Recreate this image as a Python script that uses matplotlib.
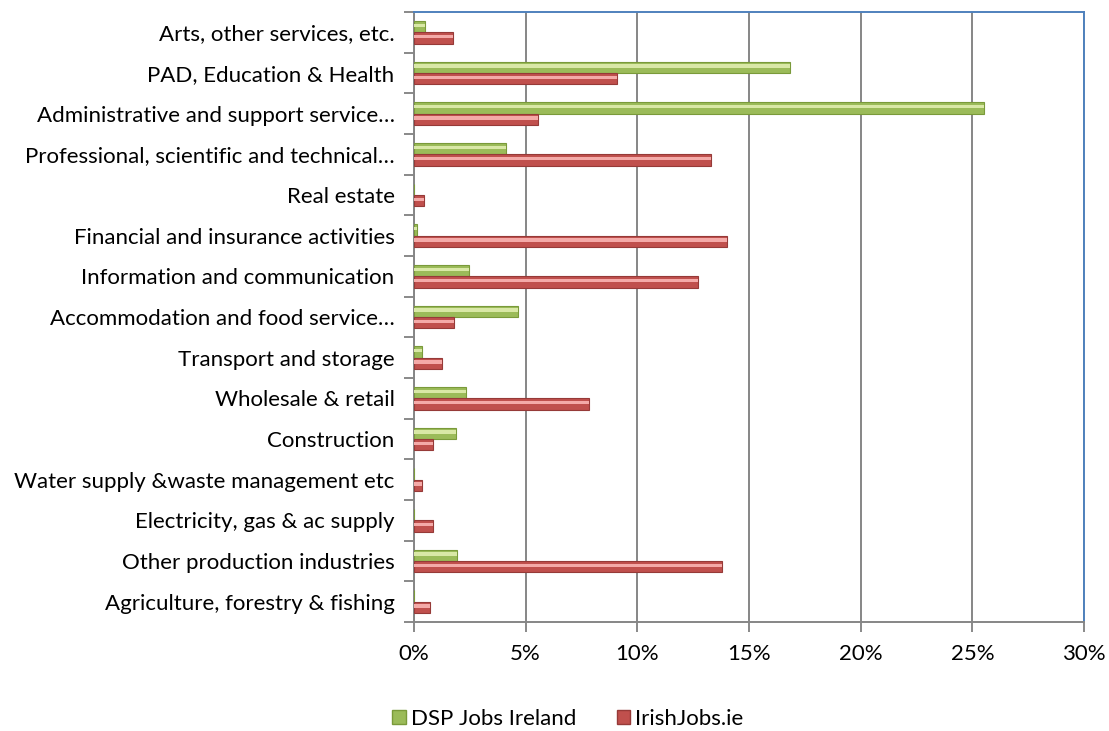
import matplotlib
matplotlib.use("Agg")
import matplotlib.pyplot as plt
import numpy as np
from matplotlib.patches import Patch
from matplotlib.ticker import FuncFormatter, MultipleLocator

categories = [
    "Agriculture, forestry & fishing",
    "Other production industries",
    "Electricity, gas & ac supply",
    "Water supply &waste management etc",
    "Construction",
    "Wholesale & retail",
    "Transport and storage",
    "Accommodation and food service\u2026",
    "Information and communication",
    "Financial and insurance activities",
    "Real estate",
    "Professional, scientific and technical\u2026",
    "Administrative and support service\u2026",
    "PAD, Education & Health",
    "Arts, other services, etc.",
]
dsp_jobs = [0.02, 1.94, 0.0, 0.02, 1.88, 2.34, 0.37, 4.66, 2.45, 0.13, 0.02, 4.12, 25.5, 16.85, 0.49]
irish_jobs = [0.73, 13.77, 0.85, 0.36, 0.85, 7.84, 1.25, 1.78, 12.7, 14.0, 0.45, 13.3, 5.55, 9.08, 1.76]

plt.rcParams['font.family'] = ['Lato', 'DejaVu Sans']

fig = plt.figure(figsize=(11.09, 7.31), dpi=100)
ax = fig.add_axes([414/1109, 1-622/731, (1084-414)/1109, (622-12)/731])

y = np.arange(len(categories))
h = 0.28
green = dict(edge="#7a9a3a", body="#9BBB59", hi="#d9e8a6")
red = dict(edge="#963a38", body="#C0504D", hi="#f4aaa8")

def draw(vals, offset, c):
    ax.barh(y + offset, vals, height=h, color=c["body"], edgecolor=c["edge"], linewidth=0.8, zorder=3)
    ax.barh(y + offset + h*0.12, vals, height=h*0.28, color=c["hi"], linewidth=0, zorder=4)

draw(dsp_jobs, h/2, green)
draw(irish_jobs, -h/2, red)

ax.set_xlim(0, 30)
ax.set_ylim(-0.5, len(categories) - 0.5)
ax.xaxis.set_major_locator(MultipleLocator(5))
ax.xaxis.set_major_formatter(FuncFormatter(lambda v, p: f"{int(v)}%"))
ax.set_yticks(y)
ax.set_yticklabels(categories)
ax.set_yticks(np.arange(-0.5, len(categories), 1), minor=True)
ax.tick_params(axis='y', which='major', length=0, labelsize=16, pad=14)
ax.tick_params(axis='y', which='minor', length=7, width=1.3, color="#808080")
ax.tick_params(axis='x', length=7, width=1.3, color="#808080", labelsize=16, pad=9)
ax.grid(axis='x', color="#868686", linewidth=1.4, zorder=0)
ax.set_axisbelow(True)
for s in ['left', 'bottom']:
    ax.spines[s].set_color("#868686")
    ax.spines[s].set_linewidth(1.4)
for s in ['top', 'right']:
    ax.spines[s].set_color("#4F81BD")
    ax.spines[s].set_linewidth(1.4)

handles = [Patch(facecolor="#9BBB59", edgecolor="#7a9a3a", label="DSP Jobs Ireland"),
           Patch(facecolor="#C0504D", edgecolor="#963a38", label="IrishJobs.ie")]
fig.legend(handles=handles, loc='center', bbox_to_anchor=(568/1109, 1-719/731), ncol=2,
           frameon=False, fontsize=16, handlelength=0.6, handleheight=0.6, handletextpad=0.25,
           columnspacing=1.8)

fig.savefig("out.png", dpi=100)
